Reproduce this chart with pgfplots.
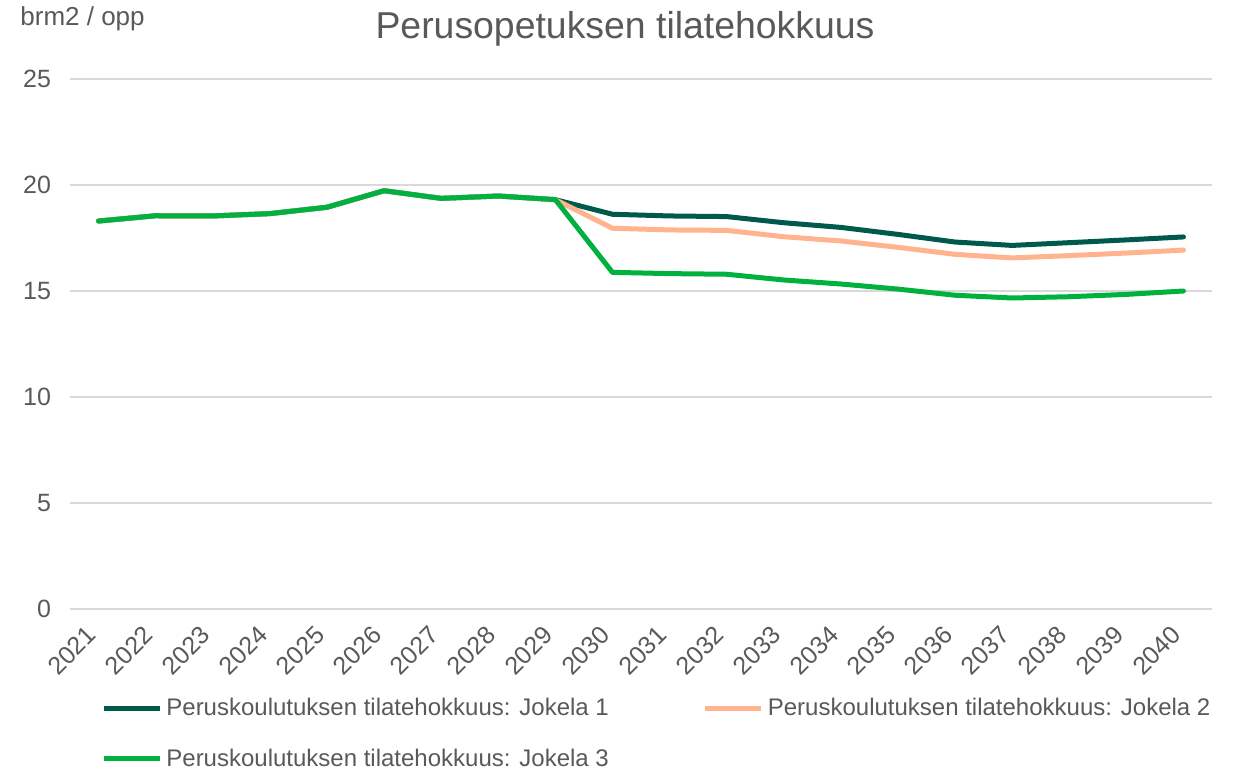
\documentclass[border=0pt]{standalone}
\usepackage{fontspec}
\setmainfont{Liberation Sans}
\usepackage{pgfplots}
\pgfplotsset{compat=1.18}
\definecolor{txt}{HTML}{595959}
\definecolor{gridc}{HTML}{D9D9D9}
\definecolor{jone}{HTML}{005A4B}
\definecolor{jtwo}{HTML}{FFB38E}
\definecolor{jthree}{HTML}{00B140}
\pgfplotstableread{
year j1 j2 j3
2021 18.30 18.30 18.30
2022 18.55 18.55 18.55
2023 18.54 18.54 18.54
2024 18.65 18.65 18.65
2025 18.95 18.95 18.95
2026 19.73 19.73 19.73
2027 19.37 19.37 19.37
2028 19.48 19.48 19.48
2029 19.31 19.31 19.31
2030 18.62 17.96 15.88
2031 18.54 17.88 15.82
2032 18.51 17.86 15.79
2033 18.22 17.56 15.52
2034 18.00 17.36 15.33
2035 17.67 17.06 15.09
2036 17.31 16.73 14.80
2037 17.15 16.56 14.67
2038 17.28 16.67 14.73
2039 17.41 16.79 14.84
2040 17.55 16.93 15.00
}\data
\begin{document}
\begin{tikzpicture}
\begin{axis}[
  scale only axis,
  width=571pt, height=265pt,
  xmin=2020.5, xmax=2040.5,
  ymin=0, ymax=25,
  xtick={2021,...,2040},
  ytick={0,5,...,25},
  xticklabel={\pgfmathprintnumber[1000 sep={}]{\tick}},
  /pgf/number format/assume math mode=true,
  /pgf/number format/1000 sep={},
  ymajorgrids,
  grid style={gridc, line width=0.8pt},
  axis line style={draw=none},
  axis x line*=bottom,
  x axis line style={gridc, line width=0.8pt},
  major tick length=0pt,
  tick style={draw=none},
  ticklabel style={font=\fontsize{12.5}{14}\selectfont, text=txt},
  yticklabel style={xshift=-6pt},
  xticklabel style={yshift=-8.5pt, xshift=-1pt, rotate=45, anchor=east},
  clip=false,
  legend columns=2,
  legend cell align=left,
  legend style={at={(rel axis cs:0,0)}, anchor=north west, xshift=12.5pt, yshift=-40.5pt,
    draw=none, fill=none, font=\fontsize{12}{14}\selectfont, text=txt,
    row sep=11pt,
    /tikz/every even column/.append style={column sep=45pt}},
  legend image code/.code={\draw[#1, line cap=butt] (0pt,0pt) -- (28pt,0pt);},
  every axis plot/.append style={line width=2.5pt, line join=round, line cap=round, mark=none},
]
\addplot[jone] table[x=year, y=j1] {\data};
\addlegendentry{Peruskoulutuksen tilatehokkuus: Jokela 1}
\addplot[jtwo] table[x=year, y=j2] {\data};
\addlegendentry{Peruskoulutuksen tilatehokkuus: Jokela 2}
\addplot[jthree] table[x=year, y=j3] {\data};
\addlegendentry{Peruskoulutuksen tilatehokkuus: Jokela 3}
\coordinate (sw) at (rel axis cs:0,0);
\coordinate (ne) at (rel axis cs:1,1);
\node[anchor=west, text=txt, font=\fontsize{13}{15}\selectfont, xshift=-25pt, yshift=30pt, inner sep=0pt] at (rel axis cs:0,1) {brm2 / opp};
\node[text=txt, font=\fontsize{18.7}{21}\selectfont, xshift=-8pt, yshift=25pt, inner sep=0pt] at (rel axis cs:0.5,1) {Perusopetuksen tilatehokkuus};
\end{axis}
\path ([shift={(-35pt,-81pt)}]sw) rectangle ([shift={(11.5pt,39.5pt)}]ne);
\end{tikzpicture}
\end{document}
